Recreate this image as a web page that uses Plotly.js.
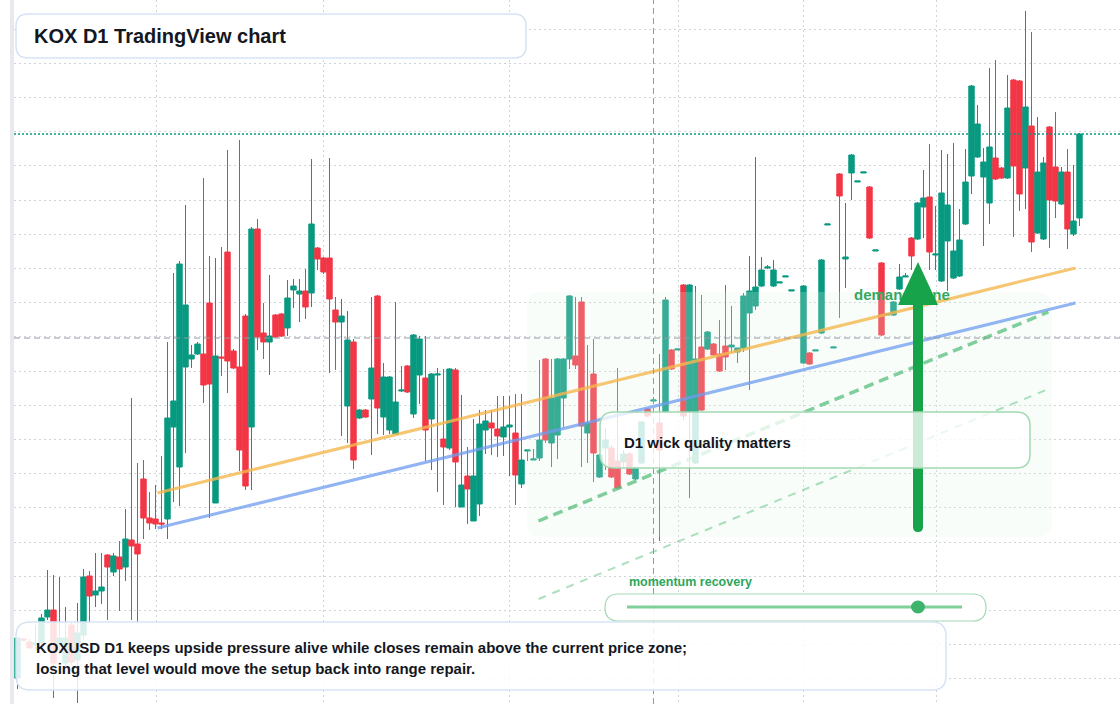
<!DOCTYPE html>
<html>
<head>
<meta charset="utf-8">
<script src="https://cdn.plot.ly/plotly-3.0.1.min.js"></script>
<style>html,body{margin:0;padding:0;background:#fff;}#chart{width:1120px;height:704px;}</style>
</head>
<body>
<div id="chart"></div>
<script>
// ---- data (KOXUSD daily candles) ----
const sessions = Array.from({length: 178}, (_, i) => i);
const opens = [
 1.22,1.61,1.58,1.55,1.57,1.83,1.90,1.55,1.37,1.75,
 1.40,1.65,2.24,2.05,2.09,2.45,2.28,2.43,2.33,2.60,
 2.56,3.21,2.82,2.81,2.77,2.81,3.73,3.33,4.33,4.41,
 4.46,4.46,4.97,2.97,4.43,5.48,4.49,4.33,4.84,3.73,
 5.71,4.67,4.58,4.85,4.86,4.72,5.10,5.06,5.09,5.07,
 5.52,5.42,5.42,4.90,4.78,3.94,4.58,3.82,3.90,4.01,
 5.04,3.83,3.70,3.66,4.09,4.34,3.86,4.25,4.22,3.81,
 4.25,3.61,3.52,4.30,2.93,3.24,2.79,2.96,3.70,3.77,
 3.71,3.63,3.73,3.67,3.16,3.49,3.40,3.42,4.41,3.57,
 3.65,4.02,4.41,4.44,4.98,3.67,4.26,3.23,3.52,3.52,
 3.39,3.38,3.46,3.21,3.37,3.91,3.99,3.77,3.88,4.50,
 4.50,5.15,3.88,3.37,4.53,4.51,4.56,4.46,4.54,4.53,
 4.48,4.52,4.87,4.94,5.14,5.32,5.14,5.17,5.23,5.09,
 null,4.37,4.47,4.49,4.67,5.75,4.52,6.26,5.41,6.27,
 6.18,6.27,6.13,5.49,5.37,4.85,4.85,5.11,5.23,5.62,
 5.61,5.93,6.03,5.45,5.19,5.59,5.22,5.24,5.76,6.24,
 6.43,6.23,5.97,6.42,6.32,6.22,7.20,7.19,6.32,6.74,
 5.67,5.61,6.73,6.33,5.96,6.28,5.66,5.82];
const highs = [
 1.63,1.62,1.61,1.75,1.86,2.30,2.25,2.23,1.93,1.78,
 1.97,2.31,2.29,2.47,2.47,2.46,2.47,2.59,2.91,4.02,
 3.37,3.40,3.08,3.15,3.44,4.58,5.27,5.39,5.95,4.55,
 4.58,6.22,5.44,5.42,5.53,6.50,4.51,6.60,4.86,5.73,
 5.81,4.97,5.25,4.86,4.87,5.20,5.21,5.21,5.31,6.41,
 5.53,5.43,6.42,5.03,5.01,4.89,4.61,3.91,3.91,5.03,
 5.05,4.37,4.24,4.98,4.34,4.35,4.66,4.64,4.64,4.27,
 4.32,4.31,4.32,4.32,4.05,3.53,3.81,3.90,3.90,3.90,
 4.04,4.04,4.04,4.06,4.06,3.50,3.51,4.40,4.42,4.41,
 4.42,4.42,5.05,5.03,5.03,4.55,4.61,3.46,3.72,3.55,
 4.32,3.50,3.48,3.33,3.79,3.92,4.03,4.46,5.03,4.51,
 4.51,5.16,5.16,5.14,5.05,4.69,4.57,4.80,5.15,4.94,
 4.52,5.07,5.44,6.43,5.43,5.35,5.40,5.18,5.24,5.10,
 null,5.15,4.48,4.50,5.41,5.76,4.53,6.27,5.97,6.46,
 6.19,6.28,6.14,5.50,5.38,4.86,4.99,5.36,5.27,5.63,
 5.98,6.30,6.56,5.94,6.50,6.46,6.57,5.91,6.51,7.15,
 6.95,6.52,7.32,7.40,6.33,7.25,7.21,7.20,7.89,7.68,
 6.83,6.43,6.74,6.88,6.33,6.51,6.35,6.67];
const lows = [
 1.11,1.59,1.52,1.50,1.54,1.80,1.02,1.45,1.32,1.35,
 0.97,1.60,1.78,1.93,1.96,1.80,2.24,1.89,2.19,1.80,
 1.78,2.61,2.70,2.71,2.71,2.61,2.98,2.94,3.47,4.32,
 4.45,3.97,2.82,2.97,4.24,4.07,4.31,3.29,3.10,3.10,
 4.50,4.41,4.25,4.62,4.63,4.64,4.92,4.78,4.81,4.93,
 5.30,5.26,4.27,4.30,3.64,3.57,3.31,3.81,3.82,3.45,
 3.66,3.65,3.66,3.66,4.08,4.07,3.82,3.96,3.39,3.30,
 3.08,2.95,3.50,2.93,2.93,2.76,2.79,2.84,3.46,3.45,
 3.43,3.44,3.24,2.95,3.12,3.39,3.40,3.39,3.57,3.33,
 3.41,3.73,4.31,4.31,3.33,3.37,3.18,3.22,3.30,3.22,
 3.11,3.33,3.25,3.20,3.36,3.83,3.97,2.59,3.87,4.30,
 4.50,3.80,3.02,3.36,3.89,4.50,4.44,4.28,4.30,4.47,
 4.37,4.48,4.10,4.90,5.13,5.31,5.13,5.17,5.23,5.09,
 null,4.36,4.35,4.49,4.66,5.75,4.52,4.82,5.12,6.00,
 6.18,6.27,5.61,5.49,4.64,4.85,4.84,5.10,5.23,5.30,
 5.60,5.62,5.30,5.30,5.18,5.09,5.21,5.23,5.75,6.06,
 6.42,5.54,5.76,6.20,6.21,6.21,5.63,5.89,5.91,5.48,
 5.66,5.60,5.52,5.82,5.95,5.51,5.64,5.74];
const closes = [
 1.62,1.60,1.52,1.57,1.82,1.90,1.37,1.62,1.62,1.38,
 1.67,2.23,2.04,2.09,2.13,2.33,2.44,2.31,2.61,2.54,
 2.46,2.82,2.77,2.76,2.76,3.82,3.99,5.36,4.95,4.45,
 4.56,4.15,4.16,4.44,4.42,4.39,4.32,3.50,3.14,5.71,
 4.63,4.58,4.64,4.63,4.64,5.02,5.14,5.09,4.93,5.76,
 5.41,5.28,5.01,4.78,4.84,4.60,3.40,3.90,3.83,4.32,
 3.92,4.23,4.23,3.98,4.10,4.08,4.65,4.61,3.70,4.26,
 4.26,3.53,4.31,3.38,3.15,3.11,3.24,3.76,3.79,3.72,
 3.64,3.73,3.75,3.25,3.40,3.50,3.41,3.60,3.60,4.02,
 4.41,4.41,5.04,4.35,3.74,3.77,3.47,3.45,3.60,3.23,
 3.12,3.46,3.26,3.32,3.78,3.84,4.00,3.50,5.00,4.31,
 4.51,3.84,5.15,4.41,3.90,4.68,4.45,4.29,4.43,4.55,
 4.52,5.04,5.09,5.13,5.30,5.33,5.30,5.18,5.24,5.10,
 null,5.14,4.36,4.50,5.40,5.76,4.53,6.04,5.43,6.45,
 6.19,6.28,5.62,5.50,4.65,4.86,4.98,5.23,5.24,5.44,
 5.97,6.02,5.48,5.46,6.07,5.95,5.49,5.60,6.18,7.14,
 6.76,6.38,6.53,6.21,6.22,6.92,6.34,6.06,6.93,5.58,
 6.28,6.37,6.00,5.99,6.28,5.71,5.79,6.66];
// month-boundary sessions (vertical grid)
const monthTicks = [23.1, 51.05, 82.05, 110.1, 131.05, 153.1];
// drawn trend lines: [x0, y0, x1, y1] in session / price units
const supportUpper = [23.33, 3.07, 176.33, 5.32];
const supportLower = [23.33, 2.72, 176.33, 4.97];
const channelMid   = [86.83, 2.79, 171.83, 4.88];
const channelLow   = [86.83, 2.01, 171.83, 4.11];
const crosshairSession = 106;
const crosshairPrice = 4.62;
const lastClose = closes[closes.length - 1];

const titleText = 'KOX D1 TradingView chart';
const noteLines = ['KOXUSD D1 keeps upside pressure alive while closes remain above the current price zone;',
                   'losing that level would move the setup back into range repair.'];
const calloutText = 'D1 wick quality matters';
const zoneText = 'demand zone';
const sliderText = 'momentum recovery';

// ---- layout helpers ----
const W = 1120, H = 704, ML = 14;
const px = x => (x - ML) / (W - ML);
const py = y => 1 - y / H;
function rr(x0, y0, x1, y1, r) {
  const P = (x, y) => px(x).toFixed(5) + ',' + py(y).toFixed(5);
  return 'M' + P(x0 + r, y0) + 'L' + P(x1 - r, y0) + 'Q' + P(x1, y0) + ' ' + P(x1, y0 + r) +
    'L' + P(x1, y1 - r) + 'Q' + P(x1, y1) + ' ' + P(x1 - r, y1) +
    'L' + P(x0 + r, y1) + 'Q' + P(x0, y1) + ' ' + P(x0, y1 - r) +
    'L' + P(x0, y0 + r) + 'Q' + P(x0, y0) + ' ' + P(x0 + r, y0) + 'Z';
}
function arrowPath() {
  const P = (x, y) => px(x).toFixed(5) + ',' + py(y).toFixed(5);
  return 'M' + P(913, 527) + 'L' + P(913, 305) + 'L' + P(898, 305) + 'L' + P(918, 262) +
    'L' + P(938, 305) + 'L' + P(923, 305) + 'L' + P(923, 527) +
    'Q' + P(923, 532) + ' ' + P(918, 532) + 'Q' + P(913, 532) + ' ' + P(913, 527) + 'Z';
}
const FONT = 'Liberation Sans, Arial, Helvetica, sans-serif';

const trace = {
  type: 'candlestick',
  x: sessions, open: opens, high: highs, low: lows, close: closes,
  increasing: {line: {color: '#089981', width: 1}, fillcolor: '#089981'},
  decreasing: {line: {color: '#F23645', width: 1}, fillcolor: '#F23645'},
  whiskerwidth: 0,
  hoverinfo: 'skip',
  showlegend: false
};

function tl(a, color, width, opacity, dash) {
  return {type: 'line', xref: 'x', yref: 'y', x0: a[0], y0: a[1], x1: a[2], y1: a[3],
    line: {color: color, width: width, dash: dash || 'solid'}, opacity: opacity, layer: 'above'};
}

const shapes = [
  // left price-scale strip
  {type: 'rect', xref: 'paper', yref: 'paper', x0: px(10), x1: px(14), y0: 0, y1: 1,
   fillcolor: '#e8e9ec', line: {width: 0}, layer: 'above'},
  // demand zone box
  {type: 'path', xref: 'paper', yref: 'paper', path: rr(527, 292, 1052, 537, 16),
   fillcolor: 'rgba(222,244,229,0.22)', line: {width: 0}, layer: 'above'},
  tl(supportUpper, '#f5b84f', 3, 0.8),
  tl(supportLower, '#6f9cf0', 3, 0.75),
  tl(channelMid, '#4cbb74', 3.5, 0.7, '10px,6px'),
  tl(channelLow, '#4cbb74', 2, 0.45, '8px,7px'),
  // crosshair
  {type: 'line', xref: 'x', yref: 'paper', x0: crosshairSession, x1: crosshairSession, y0: 0, y1: 1,
   line: {color: '#9598a1', width: 1, dash: '6px,4px'}, layer: 'above'},
  {type: 'line', xref: 'paper', yref: 'y', x0: 0, x1: 1, y0: crosshairPrice, y1: crosshairPrice,
   line: {color: '#9598a1', width: 1, dash: '6px,4px'}, layer: 'above'},
  // last price line
  {type: 'line', xref: 'paper', yref: 'y', x0: 0, x1: 1, y0: lastClose, y1: lastClose,
   line: {color: '#089981', width: 1.5, dash: '2px,2px'}, layer: 'above'},
  // demand zone label (under the arrow)
  {type: 'rect', xref: 'paper', yref: 'paper', x0: px(851), x1: px(990), y0: py(302), y1: py(284),
   fillcolor: 'rgba(0,0,0,0)', line: {width: 0}, layer: 'above',
   label: {text: '<b>' + zoneText + '</b>', textposition: 'middle left', padding: 0,
           font: {family: FONT, size: 15, color: '#34a85e'}}},
  // arrow
  {type: 'path', xref: 'paper', yref: 'paper', path: arrowPath(),
   fillcolor: '#16a34a', line: {width: 0}, layer: 'above'},
  // callout box
  {type: 'path', xref: 'paper', yref: 'paper', path: rr(600, 412, 1030, 468, 14),
   fillcolor: 'rgba(255,255,255,0.78)', line: {color: '#a3d9b3', width: 1.5}, layer: 'above'},
  // momentum slider
  {type: 'path', xref: 'paper', yref: 'paper', path: rr(605, 594, 986, 621, 13.5),
   fillcolor: 'rgba(255,255,255,0.92)', line: {color: '#a3d9b3', width: 1.2}, layer: 'above'},
  {type: 'line', xref: 'paper', yref: 'paper', x0: px(627), x1: px(962), y0: py(607), y1: py(607),
   line: {color: '#7fcf98', width: 3}, layer: 'above'},
  {type: 'circle', xref: 'paper', yref: 'paper', x0: px(911), x1: px(925), y0: py(613.5), y1: py(600.5),
   fillcolor: '#3db36b', line: {width: 0}, layer: 'above'},
  // bottom note box
  {type: 'path', xref: 'paper', yref: 'paper', path: rr(16, 622, 946, 690, 14),
   fillcolor: 'rgba(255,255,255,0.85)', line: {color: '#d6e3f6', width: 1.5}, layer: 'above'},
  // title box
  {type: 'path', xref: 'paper', yref: 'paper', path: rr(16, 14, 526, 58, 12),
   fillcolor: 'rgba(255,255,255,0.97)', line: {color: '#d6e3f6', width: 1.5}, layer: 'above'}
];

const annotations = [
  {xref: 'paper', yref: 'paper', x: px(32), y: py(36), xanchor: 'left', yanchor: 'middle', showarrow: false,
   text: titleText, font: {family: FONT, size: 20, color: '#131722', weight: 700}},
  {xref: 'paper', yref: 'paper', x: px(34), y: py(647), xanchor: 'left', yanchor: 'middle', showarrow: false,
   text: noteLines[0], font: {family: FONT, size: 15, color: '#131722', weight: 700}},
  {xref: 'paper', yref: 'paper', x: px(34), y: py(668), xanchor: 'left', yanchor: 'middle', showarrow: false,
   text: noteLines[1], font: {family: FONT, size: 15, color: '#131722', weight: 700}},
  {xref: 'paper', yref: 'paper', x: px(622), y: py(442), xanchor: 'left', yanchor: 'middle', showarrow: false,
   text: calloutText, font: {family: FONT, size: 15, color: '#131722', weight: 700}},
  {xref: 'paper', yref: 'paper', x: px(627), y: py(582), xanchor: 'left', yanchor: 'middle', showarrow: false,
   text: sliderText, font: {family: FONT, size: 12.5, color: '#2ea65a', weight: 700}}
];

const xStart = -0.5 - 0.5 / 6;
const layout = {
  width: W, height: H,
  margin: {l: ML, r: 0, t: 0, b: 0, pad: 0},
  paper_bgcolor: '#ffffff', plot_bgcolor: '#ffffff',
  showlegend: false,
  boxgap: 0.1, boxgroupgap: 0,
  xaxis: {range: [xStart, xStart + (W - ML) / 6], tickmode: 'array', tickvals: monthTicks,
          showticklabels: false, ticks: '', showgrid: true, gridcolor: '#cfd3da', gridwidth: 1,
          griddash: '2px,3px', zeroline: false, showline: false, rangeslider: {visible: false}, fixedrange: true},
  yaxis: {range: [8 - H / 100, 8], tick0: 7.71, dtick: 0.3421, showticklabels: false, ticks: '',
          showgrid: true, gridcolor: '#cfd3da', gridwidth: 1, griddash: '2px,3px',
          zeroline: false, showline: false, fixedrange: true},
  shapes: shapes,
  annotations: annotations
};

Plotly.newPlot('chart', [trace], layout, {staticPlot: true, displayModeBar: false});
</script>
</body>
</html>
